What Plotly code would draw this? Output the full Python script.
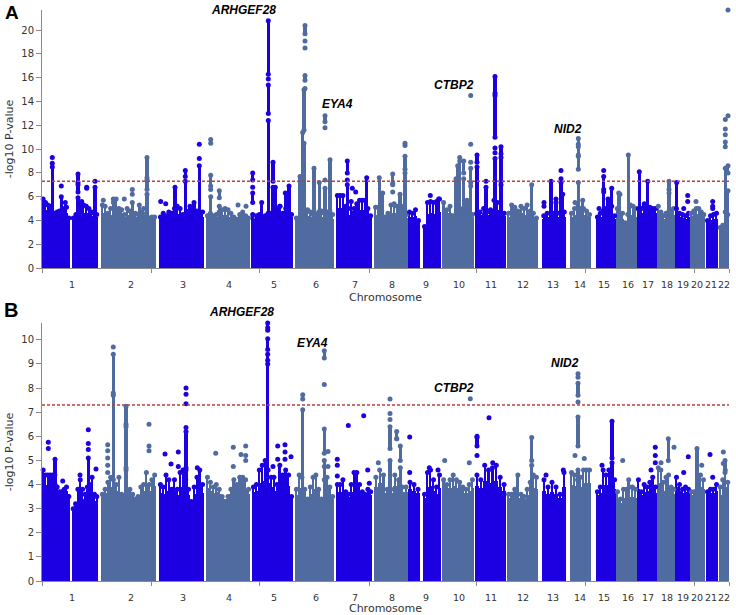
import plotly.graph_objects as go

W, H = 736, 615
PL, PR = 42, 729

chrom_names = [str(i) for i in range(1, 23)]
chrom_centers = [30, 89, 141, 187, 232, 274, 313, 350, 384, 417, 449, 481, 511, 538, 562, 586, 606, 625, 641, 655, 669, 682]
boundary_ticks = [0, 109, 217, 327, 434, 543, 652, 687]

seg_chrom = [1, 1, 2, 3, 4, 5, 6, 7, 8, 9, 9, 10, 11, 12, 13, 14, 15, 16, 17, 18, 19, 20, 21, 22]
seg_start = [0, 30, 59, 117, 164, 210, 253, 294, 332, 366, 381, 400, 433, 465, 500, 528, 554, 574, 595, 615, 633, 648, 664, 677]
seg_end = [28, 56, 114, 162, 208, 251, 292, 330, 366, 378, 399, 432, 464, 496, 524, 549, 574, 595, 615, 633, 648, 663, 676, 687]

a_floor = [4.2, 4.0, 4.0, 3.9, 4.0, 4.0, 3.8, 4.0, 3.9, 3.9, 3.6, 4.1, 4.2, 4.0, 3.9, 4.0, 3.9, 3.6, 4.2, 3.9, 3.9, 4.1, 3.7, 3.3]
b_floor = [3.6, 3.0, 3.5, 3.3, 3.4, 3.5, 3.3, 3.4, 3.5, 3.5, 3.3, 3.5, 3.5, 3.3, 3.3, 3.5, 3.4, 3.1, 3.4, 3.4, 3.5, 3.4, 3.5, 3.2]

a_env_01 = [5.8, 5.5, 5.3, 5.2, 4.5, 4.6, 4.7, 4.8, 4.7, 5.0, 5.1, 4.2]
a_env_02 = [4.2, 4.5, 4.7, 4.6, 5.3, 5.2, 5.0, 4.7, 4.6, 4.5]
a_env_03 = [5.3, 5.2, 4.6, 5.0, 5.5, 5.8, 5.0, 4.9, 4.5, 5.0, 4.8, 4.3, 4.6, 4.5, 4.7, 5.0, 4.6, 4.2, 4.3, 4.3]
a_env_04 = [4.3, 4.6, 4.4, 4.7, 4.6, 5.0, 5.2, 5.0, 4.5, 4.5, 4.8, 4.7, 4.6, 4.8, 4.5, 4.7]
a_env_05 = [4.4, 4.6, 4.4, 4.5, 4.7, 4.9, 5.0, 4.9, 4.6, 4.3, 4.1, 4.5, 4.7, 4.4, 4.2]
a_env_06 = [4.0, 4.4, 4.5, 4.3, 4.4, 4.6, 4.6, 4.7, 5.0, 5.2, 4.6, 5.0, 5.8, 4.5]
a_env_07 = [4.2, 4.1, 4.4, 4.7, 4.9, 4.7, 4.5, 4.5, 4.7, 4.8, 4.6, 4.7, 4.8, 4.5]
a_env_08 = [6.1, 6.1, 6.1, 5.2, 5.0, 5.6, 5.0, 5.4, 5.7, 5.7, 5.7, 5.0, 4.4]
a_env_09 = [5.1, 5.1, 4.8, 4.3, 4.6, 5.3, 5.4, 5.2, 5.0, 5.2, 4.5]
a_env_10 = [4.7, 4.6, 4.9, 4.0]
a_env_11 = [3.5, 5.5, 5.6, 5.5, 5.6, 5.8]
a_env_12 = [5.5, 4.9, 5.2, 4.4, 4.4, 4.5, 5.0, 5.0, 4.8, 4.5]
a_env_13 = [4.6, 4.7, 5.0, 4.7, 4.9, 5.7, 5.5, 4.7, 4.6]
a_env_14 = [4.6, 5.3, 5.1, 4.8, 5.2, 5.0, 5.3, 4.8, 4.6, 4.2]
a_env_15 = [4.4, 4.6, 4.0, 4.6, 4.6, 4.7, 4.7]
a_env_16 = [4.6, 5.0, 5.4, 5.0, 5.0, 4.8, 4.5]
a_env_17 = [4.3, 4.6, 4.8, 5.0, 5.3, 5.2, 4.4]
a_env_18 = [5.0, 6.2, 4.6, 3.8, 4.5, 5.3, 5.2, 5.0]
a_env_19 = [5.0, 5.0, 5.2, 5.1, 5.1, 5.0, 5.0]
a_env_20 = [5.2, 4.7, 4.4, 4.6, 4.7, 4.9, 5.0]
a_env_21 = [5.0, 4.6, 4.5, 4.4, 4.6]
a_env_22 = [4.6, 4.8, 5.0, 5.0, 4.7, 4.5]
a_env_23 = [4.0, 4.4, 4.5, 4.6]
a_env_24 = [3.4, 3.6, 4.7, 4.5]

a_stem_x = [10.3, 19.3, 23.3, 36, 36, 36, 39.7, 53, 71.3, 90.3, 97.3, 105, 105, 105, 133, 143.3, 143.3, 148, 152, 157.3,
            168.7, 168.7, 168.7, 177.3, 177.3, 210.7, 210.7, 210.7, 219.7, 226.3, 226.3, 226.3, 231, 231, 233.3, 243.3, 247,
            258, 260.7, 262, 262, 263, 263, 272, 277.3, 283, 283, 288, 305.3, 305.3, 324.7, 337.3, 340.7, 350.7, 358, 363, 363, 363,
            396.7, 414, 415.7, 417.7, 421.7, 421.7, 425, 428.7, 428.7, 435, 435, 444, 453, 453, 453, 459, 459, 459,
            489.7, 509, 514, 519, 520.7, 536.3, 536.3, 536.3, 536.3, 540.7, 561.7, 561.7, 566, 569.7, 576.7, 586.3,
            597.3, 602.3, 605.7, 627, 627, 634.7, 683.3, 683.3, 686, 686]
a_stem_lo = [0, 0, 0, 0, 6.4, 7.2, 0, 0, 0, 0, 0, 0, 6.6, 7.6, 0, 0, 7.7, 0, 0, 0,
             0, 6.9, 10.5, 0, 5.9, 0, 5.5, 7.4, 0, 0, 13, 16.3, 0, 7.3, 0, 0, 0,
             0, 0, 0, 11.6, 15.8, 19.7, 0, 0, 0, 12.3, 0, 0, 8, 0, 0, 0, 7.1, 0, 0, 8.3, 10.3,
             0, 0, 0, 0, 0, 8, 0, 0, 7.2, 0, 8.9, 0, 0, 11, 14.7, 0, 7.3, 9.6,
             0, 0, 0, 0, 0, 0, 8.3, 9.5, 10.4, 0, 0, 6.6, 0, 0, 0, 0,
             0, 0, 0, 0, 6.6, 0, 0, 10.2, 0, 8]
a_stem_hi = [8.5, 6, 5.5, 5.9, 7, 7.9, 5.6, 6.8, 5.8, 5.5, 5.3, 6.2, 7.4, 9.3, 6.8, 7.3, 8.2, 5.2, 5.5, 8.6,
             6, 7.8, 10.8, 5.2, 6.5, 4.5, 6.3, 8, 5.5, 12.4, 15.4, 20.8, 6.8, 8.9, 6.8, 6.3, 6.9,
             7.7, 11.4, 10.5, 15, 16.2, 20.4, 8.4, 7.2, 6.7, 12.8, 9.1, 7, 9, 7.6, 7.6, 6.3, 7.9, 6.2, 8, 9.4, 10.5,
             5.8, 7.5, 8.6, 9, 7.5, 9, 5.7, 6.9, 8.4, 8.5, 9.5, 6.8, 9.2, 14.5, 16.1, 7, 9.3, 10.2,
             7, 7.3, 5.5, 7.2, 6.2, 7.2, 9.4, 10.2, 10.9, 5.7, 6.4, 7.7, 5.8, 6.7, 6.3, 9.5,
             8.1, 5.4, 7.3, 6.3, 7.3, 7.2, 8.4, 10.6, 6.5, 8.6]
a_dot_x = [10.3, 10.3, 19.3, 44.7, 44.7, 53, 61.3, 82.3, 90.3, 90.3, 118.7, 123.7, 157.3, 157.3, 168.7, 196, 204, 210.7, 238,
           226.3, 263, 263, 263, 283, 283, 305.3, 310.3, 313.7, 350.7, 350.7, 388.3, 417.7, 428.7, 428.7, 428.7, 444, 453, 453,
           502, 502, 514, 519, 519, 561.7, 557, 533, 641.7, 645.7, 645.7, 654, 670.7, 670.7, 670.7, 683.3, 683.3, 683.3, 686, 686]
a_dot_y = [8.8, 9.3, 6.9, 6.7, 6.8, 7.3, 5.7, 5.8, 6.2, 6.6, 5.6, 5.4, 9.2, 10.4, 6.6, 5.3, 5.2, 6.8, 5.2,
           15.9, 15.1, 18.5, 19.1, 7.4, 11.8, 7.4, 6.7, 6.4, 6.4, 7, 6.1, 9.3, 8.9, 10.4, 14.5, 7.3, 9.7, 10.1,
           5.2, 5.5, 5.8, 7.5, 8.2, 8.2, 5, 5.5, 5, 5.6, 6.1, 5.6, 5, 5.2, 5.6, 11.2, 11.7, 12.5, 12.8, 21.7]

b_env_01 = [4.6, 4.4, 4.4, 4.4, 4.4, 4.4, 3.9, 3.7, 3.7, 3.8, 3.9, 3.5]
b_env_02 = [3.0, 3.2, 3.8, 4.2, 3.8, 3.6, 3.9, 4.0, 4.3, 3.6, 3.5]
b_env_03 = [3.6, 3.8, 4.1, 4.3, 4.2, 4.0, 4.3, 3.6, 3.5, 3.7, 3.8, 3.6, 3.4, 3.5, 3.9, 4.0, 4.5, 4.0, 4.2, 4.4]
b_env_04 = [4.0, 3.9, 4.4, 4.2, 3.8, 4.2, 3.8, 4.5, 4.6, 4.2, 3.8, 3.3, 3.9, 4.3, 4.6, 4.0]
b_env_05 = [4.3, 4.1, 3.9, 4.0, 3.8, 3.5, 3.3, 3.5, 3.8, 4.2, 4.0, 4.3, 4.3, 4.2, 3.8]
b_env_06 = [3.9, 4.0, 4.6, 4.8, 5.0, 4.6, 4.3, 4.3, 4.0, 4.8, 4.4, 4.6, 4.4, 3.5]
b_env_07 = [3.8, 4.4, 4.3, 3.8, 3.4, 3.9, 4.3, 4.4, 3.8, 3.4, 4.2, 4.3, 3.9, 3.5]
b_env_08 = [4.0, 4.0, 4.2, 3.7, 3.6, 4.0, 4.5, 4.5, 4.0, 3.7, 3.6, 3.8, 3.7]
b_env_09 = [4.3, 4.6, 4.4, 3.8, 3.8, 4.4, 4.2, 3.9, 3.9]
b_env_10 = [4.1, 4.0, 3.8]
b_env_11 = [3.6, 4.5, 4.6, 4.2, 3.9, 4.4]
b_env_12 = [4.2, 4.0, 4.2, 4.4, 4.2, 4.1, 3.9, 3.8, 4.0, 4.2]
b_env_13 = [4.4, 4.2, 4.8, 4.6, 4.7, 4.8, 4.3, 4.0]
b_env_14 = [3.6, 3.6, 3.8, 4.4, 3.6, 3.5, 3.8, 4.1, 4.4, 4.3]
b_env_15 = [4.2, 3.9, 4.1, 3.9, 3.6, 4.5]
b_env_16 = [4.5, 4.4, 4.2, 4.3, 4.6, 4.6, 4.6]
b_env_17 = [3.7, 3.9, 4.6, 4.4, 4.6, 4.2, 4.2]
b_env_18 = [3.7, 3.4, 3.8, 3.8, 3.9, 3.9, 3.8]
b_env_19 = [4.2, 3.7, 4.0, 3.9, 4.1, 4.3, 3.9]
b_env_20 = [4.7, 4.6, 4.1, 4.3, 4.4, 3.9, 3.8]
b_env_21 = [4.3, 4.0, 3.8, 3.9, 3.8]
b_env_22 = [3.7, 3.7, 3.9, 4.4, 4.2]
b_env_23 = [3.7, 3.8, 3.8, 4.0]
b_env_24 = [3.9, 4.2, 4.6, 4.1]

b_stem_x = [13, 46.3, 71.3, 71.3, 84, 84, 84, 144, 144, 225.7, 225.7, 225.7, 225.7, 260.7, 282.3, 282.3, 282.3, 348, 348, 354.7, 358.3, 358.3,
            435, 489.7, 489.7, 536, 536, 536, 536, 570, 570, 586.7, 626.3, 655, 683]
b_stem_lo = [4.0, 0, 0, 7.8, 0, 4.7, 6.5, 0, 4.7, 0, 9.15, 9.6, 10.5, 0, 0, 5.3, 9.25, 0, 5.5, 5.9, 0, 5,
             5.6, 0, 5, 0, 5.6, 7.7, 8.45, 0, 5.1, 0, 5, 0, 4.5]
b_stem_hi = [5.05, 5.1, 7.7, 9.4, 4.6, 6.4, 7.25, 4.6, 6.2, 9, 9.4, 10.05, 10.7, 7.1, 5, 6.3, 9.55, 5, 6.4, 6.2, 4.7, 5.6,
             5.95, 4.8, 5.95, 4.6, 6.8, 8.2, 8.6, 4.9, 6.63, 4.2, 5.9, 5.5, 5]
b_dot_x = [6.3, 6.3, 20.7, 46.3, 46.3, 46.3, 38, 54, 65.7, 65.7, 65.7, 65.7, 65.7, 71.3, 107, 107, 107, 123, 129, 136.3, 136.3, 144, 144, 144, 144,
           155.3, 173.7, 191.3, 191.3, 199, 203.7, 203.7, 203.7, 225.7, 235.7, 235.7, 243, 243, 243, 249, 231, 260.7, 260.7, 282.3, 282.3, 286, 286,
           295.3, 295.3, 295.3, 306.3, 321.7, 325.7, 327.3, 336.3, 348, 348, 348, 354.7, 367.7, 367.7, 387.3, 396, 402.7, 427.3, 428.3,
           435, 435, 447, 450.7, 504, 521.3, 536, 533, 542.3, 560, 580.7, 613.3, 613.3, 613.3, 609, 632, 619, 646.3, 641.7, 659.7, 668, 670.7, 681.3, 681.3]
b_dot_y = [5.5, 5.75, 4.15, 5.45, 5.7, 6.27, 4.4, 4.65, 4.5, 4.8, 5.1, 5.4, 5.65, 9.7, 5.4, 5.6, 6.5, 5.27, 4.85, 4.75, 5.35, 6.37, 7.35, 7.75, 8.0,
           4.7, 5.3, 5.55, 4.75, 5.25, 5.6, 5.0, 5.2, 10.4, 5.6, 5.05, 5.65, 5.35, 5.05, 5.15, 4.75, 7.55, 7.72, 4.75, 8.15, 5.37, 4.75,
           4.35, 4.8, 5.05, 6.45, 6.85, 4.6, 4.05, 4.9, 6.7, 6.95, 7.55, 5.9, 5.97, 4.5, 4.7, 4.6, 5.0, 4.9, 7.56,
           6.0, 5.2, 6.77, 4.9, 4.4, 4.6, 7.42, 5.2, 5.08, 4.8, 5.0, 5.55, 5.2, 4.9, 4.6, 5.55, 4.9, 5.15, 4.5, 4.8, 5.25, 4.3, 5.35, 4.87]

threshold = 7.3
BLUE, STEEL = "#1c00e2", "#506b9f"
a_env = [a_env_01, a_env_02, a_env_03, a_env_04, a_env_05, a_env_06, a_env_07, a_env_08, a_env_09, a_env_10, a_env_11, a_env_12,
         a_env_13, a_env_14, a_env_15, a_env_16, a_env_17, a_env_18, a_env_19, a_env_20, a_env_21, a_env_22, a_env_23, a_env_24]
b_env = [b_env_01, b_env_02, b_env_03, b_env_04, b_env_05, b_env_06, b_env_07, b_env_08, b_env_09, b_env_10, b_env_11, b_env_12,
         b_env_13, b_env_14, b_env_15, b_env_16, b_env_17, b_env_18, b_env_19, b_env_20, b_env_21, b_env_22, b_env_23, b_env_24]


def colour_at(x):
    for c, e in zip(seg_chrom, seg_end):
        if x <= e:
            return BLUE if c % 2 else STEEL
    return STEEL


fig = go.Figure()


def add_panel(env, floor, sx, slo, shi, dx, dy, xa, ya):
    # solid body of each chromosome
    fx = [(s + e) / 2 for s, e in zip(seg_start, seg_end)]
    fw = [e - s for s, e in zip(seg_start, seg_end)]
    fig.add_trace(go.Bar(x=fx, y=floor, width=fw,
                         marker=dict(color=[BLUE if c % 2 else STEEL for c in seg_chrom], line_width=0),
                         xaxis=xa, yaxis=ya, hoverinfo="skip"))
    # fringe above the body: a full-width shoulder halfway up, then a narrow tip
    bx, by, bw, bc, mid = [], [], [], [], []
    for c, s, e, h, fl in zip(seg_chrom, seg_start, seg_end, env, floor):
        w = (e - s) / len(h)
        for i, v in enumerate(h):
            bx.append(s + (i + .5) * w)
            by.append(v)
            bw.append(w)
            bc.append(BLUE if c % 2 else STEEL)
            mid.append((fl + v) / 2)
    fig.add_trace(go.Bar(x=bx, y=mid, width=bw, marker=dict(color=bc, line_width=0), xaxis=xa, yaxis=ya, hoverinfo="skip"))
    fig.add_trace(go.Bar(x=bx, y=by, width=[q * 0.6 for q in bw], marker=dict(color=bc, line_width=0), xaxis=xa, yaxis=ya, hoverinfo="skip"))
    fig.add_trace(go.Bar(x=sx, y=[h - l for l, h in zip(slo, shi)], base=slo, width=3.3,
                         marker=dict(color=[colour_at(x) for x in sx], line_width=0), xaxis=xa, yaxis=ya, hoverinfo="skip"))
    tx = [x for x, l in zip(sx, slo) if l > 0]
    tl = [l for l in slo if l > 0]
    px = bx + sx + tx + dx
    py = by + shi + tl + dy
    fig.add_trace(go.Scatter(x=px, y=py, mode="markers", cliponaxis=False,
                             marker=dict(size=5, color=[colour_at(x) for x in px], line_width=0), xaxis=xa, yaxis=ya, hoverinfo="skip"))
    fig.add_trace(go.Scatter(x=[0, 687], y=[threshold, threshold], mode="lines",
                             line=dict(color="#b8423c", width=1.4, dash="3px 2px"), xaxis=xa, yaxis=ya, hoverinfo="skip"))


add_panel(a_env, a_floor, a_stem_x, a_stem_lo, a_stem_hi, a_dot_x, a_dot_y, "x", "y")
add_panel(b_env, b_floor, b_stem_x, b_stem_lo, b_stem_hi, b_dot_x, b_dot_y, "x2", "y2")

TICKFONT = dict(family="DejaVu Sans", size=10, color="#333333")
XTICKFONT = dict(family="DejaVu Sans", size=9.5, color="#333333")
GREY = "#8a8a8a"


def xaxis(anchor):
    return dict(domain=[PL / W, PR / W], range=[0, 687], anchor=anchor, showgrid=False, zeroline=False, automargin=False,
                showline=True, linecolor=GREY, linewidth=1, ticks="outside", ticklen=8, tickcolor="rgba(0,0,0,0)",
                tickmode="array", tickvals=chrom_centers, ticktext=chrom_names, tickangle=0, tickfont=XTICKFONT,
                minor=dict(tickmode="array", tickvals=boundary_ticks, ticks="outside", ticklen=4, tickcolor=GREY, showgrid=False),
                title=dict(text="Chromosome", font=dict(family="DejaVu Sans", size=11, color="#333333"), standoff=3))


def yaxis(anchor, top, bottom, rng, vals):
    return dict(domain=[1 - bottom / H, 1 - top / H], range=rng, anchor=anchor, showgrid=False, zeroline=False, automargin=False,
                showline=True, linecolor=GREY, linewidth=1, ticks="outside", ticklen=5, tickcolor=GREY,
                tickmode="array", tickvals=vals, tickfont=TICKFONT,
                title=dict(text="-log10 P-value", font=dict(family="DejaVu Sans", size=11, color="#333333"), standoff=5))


def note(text, x, y, size=12, bold_italic=True, anchor="center"):
    t = f"<b><i>{text}</i></b>" if bold_italic else f"<b>{text}</b>"
    return dict(text=t, x=x / W, y=1 - y / H, xref="paper", yref="paper", xanchor=anchor, yanchor="middle", showarrow=False,
                font=dict(family="Liberation Sans", size=size, color="#000000"))


fig.update_layout(
    width=W, height=H, autosize=False, margin=dict(l=0, r=0, t=0, b=0, autoexpand=False), paper_bgcolor="white", plot_bgcolor="white",
    showlegend=False, barmode="overlay", bargap=0,
    xaxis=xaxis("y"), xaxis2=xaxis("y2"),
    yaxis=yaxis("x", 10, 268, [0, 21.7], list(range(0, 21, 2))),
    yaxis2=yaxis("x2", 323, 581, [0, 10.7], list(range(0, 11))),
    annotations=[
        note("A", 12, 12, 19, False), note("B", 11, 310, 20, False),
        note("ARHGEF28", 243, 10), note("EYA4", 337, 104), note("CTBP2", 454, 85), note("NID2", 568, 129),
        note("ARHGEF28", 241, 312), note("EYA4", 312, 343), note("CTBP2", 454, 388), note("NID2", 565, 363),
    ],
)

fig.write_html("out.html", config={"displayModeBar": False},
               post_script="document.body.style.margin='0';document.documentElement.style.overflow='hidden';")
